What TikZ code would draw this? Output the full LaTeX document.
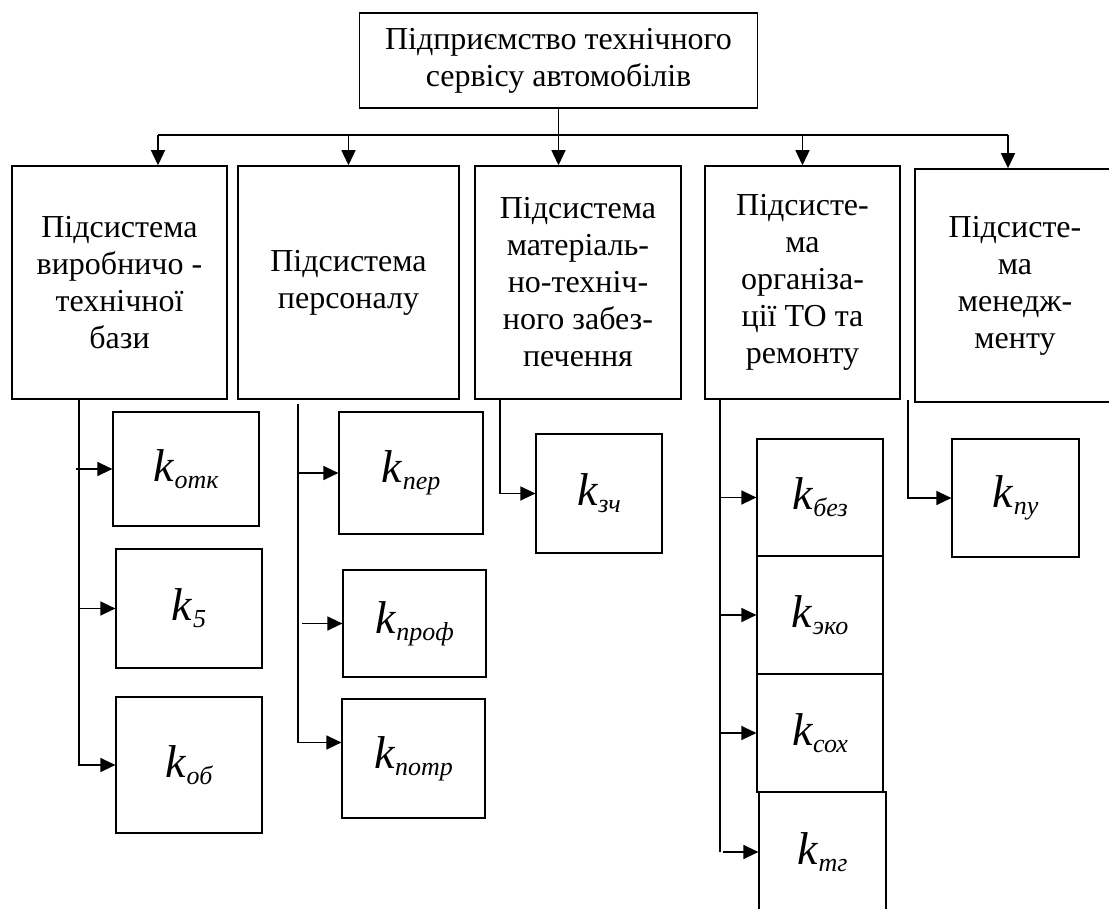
\documentclass[tikz,border=0pt]{standalone}
\usepackage{fontspec}
\setmainfont{Liberation Serif}
\usetikzlibrary{arrows.meta}

\newcommand{\coefk}[1]{\textit{k}\raisebox{-7pt}{\fontsize{26}{26}\selectfont\itshape #1}}

\begin{document}
\begin{tikzpicture}[x=1pt,y=-1pt,
  sysbox/.style={draw, line width=1.5pt, inner sep=0pt, align=center,
    font=\fontsize{32}{37}\selectfont},
  kbox/.style={draw, line width=1.2pt, inner sep=0pt,
    font=\fontsize{46}{46}\selectfont},
  arr/.style={line width=1.3pt, -{Triangle[length=15pt,width=14pt]}}]
\useasboundingbox (0,0) rectangle (1109,909);

% top level
\node[sysbox, minimum width=398pt, minimum height=95pt] (firm) at (558.5,60.5)
  {Підприємство технічного\\сервісу автомобілів};

% subsystems
\node[sysbox, minimum width=215pt, minimum height=233pt] (pvtb) at (119.5,282.5)
  {Підсистема\\виробничо -\\технічної\\бази};
\node[sysbox, minimum width=221pt, minimum height=233pt] (pers) at (348.5,282.5)
  {Підсистема\\персоналу};
\node[sysbox, minimum width=206pt, minimum height=233pt] (mtz) at (578,282.5)
  {Підсистема\\матеріаль-\\но-техніч-\\ного забез-\\печення};
\node[sysbox, minimum width=195pt, minimum height=233pt] (orto) at (802.5,282.5)
  {Підсисте-\\ма\\організа-\\ції ТО та\\ремонту};
\node[sysbox, minimum width=200pt, minimum height=233pt] (mng) at (1015,285.5)
  {Підсисте-\\ма\\менедж-\\менту};

% bus
\coordinate (bus1) at (158,135);
\coordinate (bus5) at (1008,135);
\draw[line width=1.3pt] (bus1) -- (bus5);
\draw[arr] (firm.south) -- (firm.south |- mtz.north);
\draw[arr] (bus1) -- (bus1 |- pvtb.north);
\draw[arr] (pers.north |- bus1) -- (pers.north);
\draw[arr] (orto.north |- bus1) -- (orto.north);
\draw[arr] (bus5) -- (bus5 |- mng.north);

% coefficients
\node[kbox, minimum width=146pt, minimum height=114pt] (kotk) at (186,469) {\coefk{отк}};
\node[kbox, minimum width=146pt, minimum height=119pt] (kfive) at (189,608.5) {\coefk{5}};
\node[kbox, minimum width=146pt, minimum height=136pt] (kob) at (189,765) {\coefk{об}};

\node[kbox, minimum width=144pt, minimum height=122pt] (kper) at (411,473) {\coefk{пер}};
\node[kbox, minimum width=143pt, minimum height=107pt] (kprof) at (414.5,623.5) {\coefk{проф}};
\node[kbox, minimum width=143pt, minimum height=119pt] (kpotr) at (413.5,758.5) {\coefk{потр}};

\node[kbox, minimum width=126pt, minimum height=119pt] (kzch) at (599,493.5) {\coefk{зч}};

\node[kbox, minimum width=126pt, minimum height=117pt] (kbez) at (820,497.5) {\coefk{без}};
\node[kbox, minimum width=126pt, minimum height=118pt] (keko) at (820,615) {\coefk{эко}};
\node[kbox, minimum width=126pt, minimum height=118pt] (ksoh) at (820,733) {\coefk{сох}};
\node[kbox, minimum width=127pt, minimum height=120pt] (ktg) at (822.5,852) {\coefk{тг}};

\node[kbox, minimum width=127pt, minimum height=118pt] (kpu) at (1015.5,498) {\coefk{пу}};

% branches
\coordinate (t1) at (79,399);
\draw[arr] (t1) |- (kob.west);
\draw[arr] ([xshift=-3pt]t1 |- kotk.west) -- (kotk.west);
\draw[arr] (t1 |- kfive.west) -- (kfive.west);

\coordinate (t2) at (298,404);
\coordinate (p3) at ([yshift=16pt]kpotr.west);
\draw[line width=1.3pt] (t2) -- (t2 |- p3);
\draw[arr] (t2 |- kper.west) -- (kper.west);
\draw[arr] ([xshift=4pt]t2 |- kprof.west) -- (kprof.west);
\draw[arr] (t2 |- p3) -- (p3);

\coordinate (t3) at (500,399);
\draw[arr] (t3) |- (kzch.west);

\coordinate (t4) at (720,399);
\draw[line width=1.3pt] (t4) -- (t4 |- ktg.west);
\draw[arr] (t4 |- kbez.west) -- (kbez.west);
\draw[arr] (t4 |- keko.west) -- (keko.west);
\draw[arr] (t4 |- ksoh.west) -- (ksoh.west);
\draw[arr] ([xshift=3pt]t4 |- ktg.west) -- (ktg.west);

\coordinate (t5) at (908,400);
\draw[arr] (t5) |- (kpu.west);
\end{tikzpicture}
\end{document}
